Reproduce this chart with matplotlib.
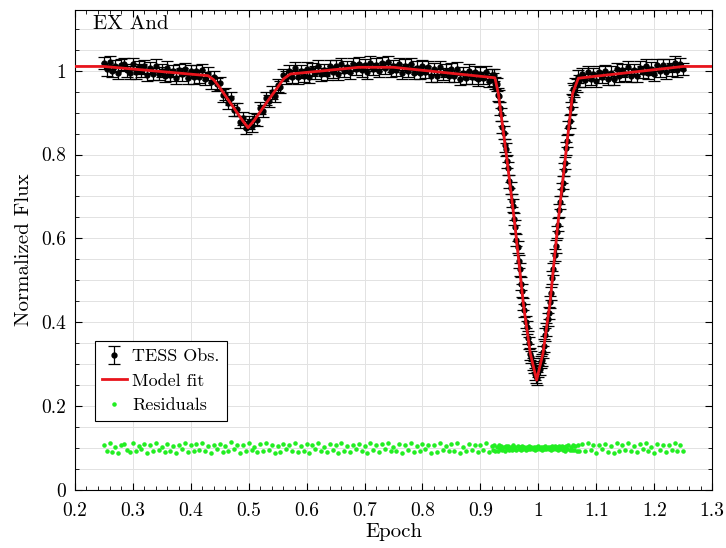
import numpy as np
import matplotlib
matplotlib.use('Agg')
import matplotlib.pyplot as plt
from matplotlib.ticker import MultipleLocator, FuncFormatter

plt.rcParams['font.family'] = 'serif'
plt.rcParams['font.serif'] = ['cmr10']
plt.rcParams['axes.unicode_minus'] = False
plt.rcParams['axes.formatter.use_mathtext'] = True

# model fit (knots)
model_phase = [0.20, 0.25, 0.43, 0.44, 0.45, 0.47, 0.49, 0.499, 0.51, 0.53, 0.55, 0.56, 0.572,
               0.69, 0.75, 0.925, 0.931, 0.946, 0.960, 0.974, 0.986, 0.997, 1.008, 1.020,
               1.033, 1.046, 1.059, 1.069, 1.25, 1.30]
model_flux = [1.010, 1.010, 0.988, 0.978, 0.960, 0.920, 0.880, 0.864, 0.882, 0.922, 0.960, 0.980, 0.992,
              1.008, 1.008, 0.983, 0.945, 0.786, 0.626, 0.445, 0.326, 0.262, 0.326, 0.445,
              0.626, 0.786, 0.945, 0.982, 1.010, 1.010]

# TESS observations: phases
phase_a = np.arange(50, 184) * 0.005    # 0.250 .. 0.915
phase_b = np.arange(460, 536) * 0.002   # 0.920 .. 1.070
phase_c = np.arange(215, 251) * 0.005   # 1.075 .. 1.250

flux_a = [1.018, 1.003, 1.020, 0.999, 1.011, 0.995, 1.013, 1.016, 1.001, 0.995,
          1.016, 0.996, 1.008, 1.000, 1.010, 0.990, 1.006, 0.992, 1.012, 0.993,
          1.000, 0.988, 1.007, 0.990, 0.999, 0.983, 1.002, 0.991, 1.004, 0.982,
          0.998, 0.984, 0.999, 0.986, 1.001, 0.981, 0.993, 0.972, 0.985, 0.967,
          0.970, 0.941, 0.944, 0.924, 0.934, 0.907, 0.908, 0.878, 0.886, 0.864,
          0.877, 0.869, 0.885, 0.882, 0.911, 0.904, 0.934, 0.928, 0.948, 0.940,
          0.965, 0.961, 0.990, 0.983, 0.998, 0.986, 1.006, 0.984, 0.998, 0.988,
          1.005, 0.985, 1.003, 0.995, 1.010, 0.991, 1.002, 0.992, 1.011, 0.997,
          1.010, 0.992, 1.016, 0.999, 1.009, 0.996, 1.015, 1.004, 1.017, 1.001,
          1.013, 0.996, 1.019, 1.004, 1.014, 0.999, 1.018, 1.006, 1.021, 1.000,
          1.011, 1.002, 1.016, 0.995, 1.012, 1.000, 1.016, 0.994, 1.007, 0.995,
          1.011, 0.997, 1.008, 0.987, 1.004, 0.988, 1.008, 0.992, 1.000, 0.987,
          1.003, 0.987, 1.005, 0.981, 0.994, 0.983, 1.000, 0.984, 0.996, 0.979,
          0.993, 0.982, 0.996, 0.975]
flux_b = [0.989, 0.979, 0.990, 0.971, 0.967, 0.943, 0.940, 0.910, 0.896, 0.866,
          0.852, 0.822, 0.812, 0.784, 0.767, 0.736, 0.720, 0.690, 0.678, 0.646,
          0.628, 0.596, 0.579, 0.545, 0.526, 0.492, 0.475, 0.443, 0.428, 0.401,
          0.388, 0.363, 0.350, 0.324, 0.317, 0.300, 0.293, 0.276, 0.271, 0.266,
          0.284, 0.288, 0.305, 0.310, 0.329, 0.344, 0.370, 0.383, 0.407, 0.422,
          0.448, 0.469, 0.506, 0.527, 0.560, 0.581, 0.615, 0.633, 0.667, 0.686,
          0.717, 0.733, 0.764, 0.780, 0.815, 0.832, 0.865, 0.879, 0.911, 0.929,
          0.956, 0.951, 0.968, 0.965, 0.986, 0.975]
flux_c = [0.992, 0.977, 0.997, 0.980, 0.992, 0.976, 0.996, 0.985, 0.999, 0.981,
          0.995, 0.980, 1.003, 0.987, 1.001, 0.991, 1.008, 0.988, 1.002, 0.988,
          1.007, 0.997, 1.012, 0.994, 1.005, 0.991, 1.013, 0.999, 1.013, 0.996,
          1.012, 1.003, 1.019, 1.001, 1.016, 1.004]
flux_err = 0.015

# residuals (shifted to 0.1)
resid_a = [0.108, 0.094, 0.111, 0.091, 0.103, 0.088, 0.107, 0.110, 0.096, 0.090,
           0.112, 0.093, 0.105, 0.098, 0.109, 0.089, 0.106, 0.092, 0.113, 0.095,
           0.102, 0.091, 0.110, 0.094, 0.104, 0.088, 0.108, 0.097, 0.111, 0.090,
           0.106, 0.093, 0.109, 0.096, 0.112, 0.092, 0.105, 0.089, 0.107, 0.098,
           0.110, 0.091, 0.104, 0.094, 0.114, 0.097, 0.108, 0.088, 0.106, 0.093,
           0.111, 0.095, 0.103, 0.090, 0.109, 0.092, 0.112, 0.096, 0.107, 0.089,
           0.105, 0.091, 0.110, 0.098, 0.108, 0.094, 0.113, 0.090, 0.104, 0.093,
           0.109, 0.088, 0.106, 0.097, 0.111, 0.092, 0.102, 0.091, 0.110, 0.095,
           0.107, 0.089, 0.112, 0.094, 0.104, 0.090, 0.108, 0.097, 0.109, 0.093,
           0.105, 0.088, 0.111, 0.096, 0.106, 0.091, 0.110, 0.098, 0.113, 0.092,
           0.103, 0.094, 0.109, 0.089, 0.107, 0.095, 0.112, 0.091, 0.104, 0.093,
           0.110, 0.097, 0.108, 0.088, 0.106, 0.090, 0.111, 0.096, 0.105, 0.092,
           0.109, 0.094, 0.112, 0.089, 0.103, 0.093, 0.110, 0.095, 0.108, 0.091,
           0.106, 0.096, 0.111, 0.090]
resid_b = [0.105, 0.096, 0.107, 0.094, 0.103, 0.092, 0.106, 0.097, 0.104, 0.095,
           0.102, 0.094, 0.105, 0.098, 0.104, 0.096, 0.103, 0.095, 0.106, 0.097,
           0.102, 0.096, 0.105, 0.097, 0.103, 0.095, 0.104, 0.098, 0.103, 0.096,
           0.102, 0.097, 0.104, 0.098, 0.103, 0.097, 0.102, 0.096, 0.103, 0.098,
           0.104, 0.097, 0.102, 0.096, 0.103, 0.098, 0.104, 0.097, 0.102, 0.097,
           0.103, 0.096, 0.105, 0.098, 0.104, 0.097, 0.103, 0.095, 0.104, 0.098,
           0.105, 0.096, 0.103, 0.094, 0.104, 0.097, 0.106, 0.095, 0.103, 0.096,
           0.107, 0.095, 0.104, 0.094, 0.108, 0.093]
resid_c = [0.109, 0.093, 0.112, 0.095, 0.106, 0.089, 0.108, 0.097, 0.110, 0.091,
           0.104, 0.088, 0.111, 0.094, 0.107, 0.096, 0.113, 0.092, 0.105, 0.090,
           0.109, 0.098, 0.112, 0.093, 0.103, 0.089, 0.110, 0.095, 0.108, 0.091,
           0.106, 0.096, 0.111, 0.092, 0.107, 0.094]

phase = np.concatenate([phase_a, phase_b, phase_c])
flux = np.concatenate([flux_a, flux_b, flux_c])
resid = np.concatenate([resid_a, resid_b, resid_c])

fig = plt.figure(figsize=(7.26, 5.48), dpi=100)
ax = fig.add_axes([0.103, 0.106, 0.878, 0.876])

h_obs = ax.errorbar(phase, flux, yerr=flux_err, fmt='o', color='black', ecolor='black',
                    markersize=3.5, elinewidth=0.9, capsize=4, capthick=0.9, zorder=3)
h_mod, = ax.plot(model_phase, model_flux, color='#e8141c', lw=2, zorder=4)
h_res, = ax.plot(phase, resid, '.', color='#22ee22', markersize=4.5, zorder=3)

ax.set_xlim(0.2, 1.3)
ax.set_ylim(0, 1.145)
ax.xaxis.set_major_locator(MultipleLocator(0.1))
ax.xaxis.set_minor_locator(MultipleLocator(0.02))
ax.yaxis.set_major_locator(MultipleLocator(0.2))
ax.yaxis.set_minor_locator(MultipleLocator(0.05))
fmt = FuncFormatter(lambda v, p: '%g' % round(v, 3))
ax.xaxis.set_major_formatter(fmt)
ax.yaxis.set_major_formatter(fmt)
ax.tick_params(which='both', direction='in', top=True, right=True, labelsize=14)
ax.tick_params(which='major', length=5, width=0.8)
ax.tick_params(which='minor', length=3, width=0.6)
ax.tick_params(axis='x', which='major', pad=9)
ax.tick_params(axis='y', which='major', pad=6)

ax.xaxis.grid(True, which='major', color='#e2e2e2', lw=0.7)
ax.yaxis.grid(True, which='both', color='#e2e2e2', lw=0.7)
ax.set_axisbelow(True)

ax.set_xlabel('Epoch', fontsize=15, labelpad=2)
ax.set_ylabel('Normalized Flux', fontsize=15, labelpad=6)
ax.text(0.028, 0.99, 'EX And', transform=ax.transAxes, fontsize=15, va='top', ha='left')

leg = ax.legend([h_obs, h_mod, h_res], ['TESS Obs.', 'Model fit', 'Residuals'],
                loc='upper left', bbox_to_anchor=(0.031, 0.31), borderaxespad=0,
                fontsize=13, fancybox=False, framealpha=1, edgecolor='black',
                handlelength=1.4, handletextpad=0.3, borderpad=0.4, labelspacing=0.5)
leg.get_frame().set_linewidth(0.8)

fig.savefig('out.png', dpi=100)
